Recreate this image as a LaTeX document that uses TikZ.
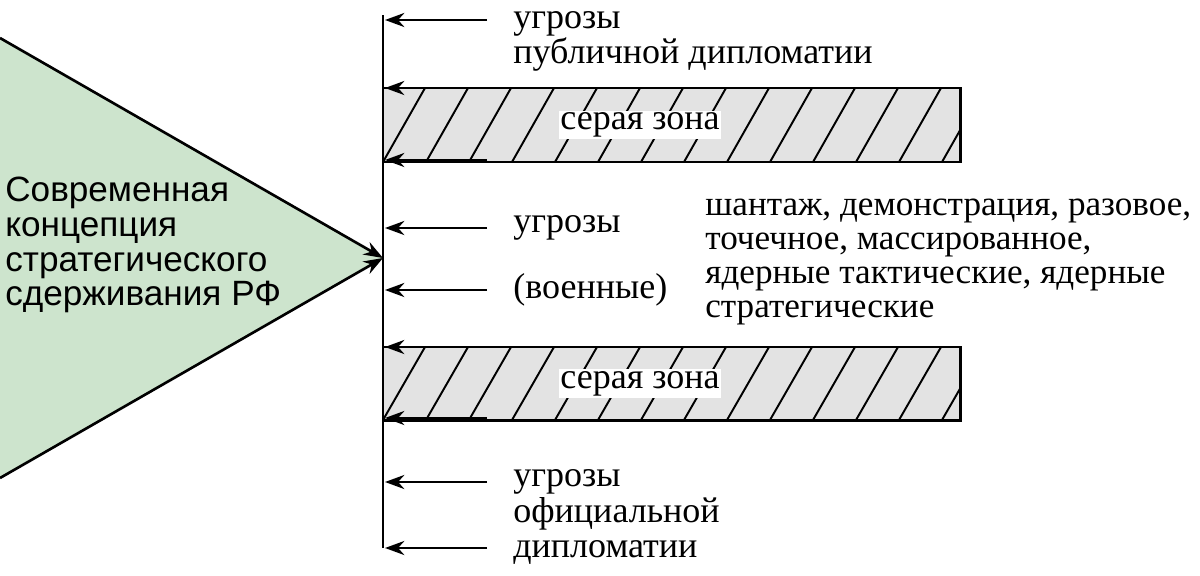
\documentclass[tikz,border=0pt]{standalone}
\usepackage{fontspec}
\setmainfont{Liberation Serif}
\newfontfamily\sansf{Liberation Sans}
\usetikzlibrary{arrows.meta}
\tikzset{
  lbl/.style={anchor=west, inner sep=0pt, align=left, font=\fontsize{20.5}{20}\selectfont},
  zone/.style={draw, line width=1.7pt, fill=gray!22},
  arr/.style={-{Stealth[length=11pt,width=8pt]}, line width=1.5pt}
}
\begin{document}
\begin{tikzpicture}[x=0.02cm, y=-0.02cm]
    \useasboundingbox (0,0) rectangle (1200,575);
    % triangle
    \fill[green!30!gray!30] (0,38) -- (383,258) -- (0,478) -- cycle;
    \coordinate (tl) at (0,38);
    \coordinate (bl) at (0,478);
    \coordinate (apex) at (383,258);
    \draw[arr] (tl) -- (apex);
    \draw[arr] (bl) -- (apex);
    \node[lbl, font=\sansf\fontsize{20}{19.8}\selectfont] (concept) at (5,245)
      {Современная\\концепция\\стратегического\\сдерживания РФ};
    % grey zones
    \foreach \ya/\yb/\n in {88/162/z1, 347/420/z2}{
      \fill[gray!22] (383,\ya) rectangle (960,\yb);
      \begin{scope}
        \clip (383,\ya) rectangle (960,\yb);
        \foreach \x in {383,426,...,1000}
          \draw[line width=1.1pt] (\x,\yb) -- (\x+42,\ya);
      \end{scope}
      \draw[zone, fill=none] (383,\ya) rectangle (960,\yb);
      \node[lbl, anchor=center, fill=white, inner sep=1pt] (\n) at (640,{(\ya+\yb)/2}) {серая зона};
    }
    % axis
    \coordinate (top) at (383,15);
    \coordinate (bot) at (383,548);
    \draw[line width=1.7pt] (top) -- (bot);
    % arrows
    \foreach \y [count=\i] in {20,88,160,228,290,347,418,482,548}{
      \coordinate (s\i) at (487,\y);
      \coordinate (e\i) at (385,\y);
      \draw[arr] (s\i) -- (e\i);
    }
    % labels
    \node[lbl] (pub) at (513,41) {угрозы\\публичной дипломатии};
    \node[lbl] (mil) at (513,228) {угрозы};
    \node[lbl] (mil2) at (513,290) {(военные)};
    \node[lbl, font=\fontsize{20}{19.5}\selectfont] (kinds) at (705,262) {шантаж, демонстрация, разовое,\\точечное, массированное,\\ядерные тактические, ядерные\\стратегические};
    \node[lbl] (off) at (513,517) {угрозы\\официальной\\дипломатии};
\end{tikzpicture}
\end{document}
